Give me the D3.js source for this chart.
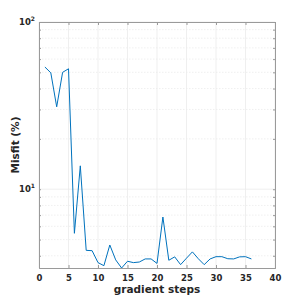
<!DOCTYPE html>
<html>
<head>
<meta charset="utf-8">
<script src="https://cdn.jsdelivr.net/npm/d3@7"></script>
<style>
  body { margin: 0; background: #fff; }
  text { font-family: "DejaVu Sans", sans-serif; font-weight: bold; }
</style>
</head>
<body>
<svg width="305" height="302"></svg>
<script>
// gradient step index and misfit values (%)
var steps = d3.range(1, 37);
var misfit = [53.8, 49.7, 31.1, 50.0, 52.5, 5.45, 13.8, 4.31, 4.29, 3.64,
  3.49, 4.64, 3.78, 3.38, 3.71, 3.64, 3.67, 3.83, 3.83, 3.60,
  6.82, 3.76, 3.94, 3.54, 3.87, 4.22, 3.84, 3.54, 3.83, 3.95,
  3.95, 3.84, 3.83, 3.94, 3.95, 3.83];
var xTicks = [0, 5, 10, 15, 20, 25, 30, 35, 40];
var yMajor = [10, 100];

var svg = d3.select("svg");
var margin = { top: 22, right: 30, bottom: 34, left: 39 },
  width = 305 - margin.left - margin.right,
  height = 302 - margin.top - margin.bottom;

var g = svg.append("g")
  .attr("transform", "translate(" + margin.left + "," + margin.top + ")");

var x = d3.scaleLinear().domain([0, 40]).range([0, width]);
var y = d3.scaleLog().domain([3.38, 100]).range([height, 0]);

// minor grid (dotted)
var minor = [];
[1, 10].forEach(function (d) {
  for (var k = 2; k <= 9; k++) {
    if (d * k > 3.38 && d * k < 100 && d * k !== 10) minor.push(d * k);
  }
});
g.selectAll(".minor").data(minor).enter().append("line")
  .attr("x1", 0).attr("x2", width)
  .attr("y1", function (d) { return y(d); })
  .attr("y2", function (d) { return y(d); })
  .attr("stroke", "#e6e6e6").attr("stroke-width", 0.6)
  .attr("stroke-dasharray", "1.5,1.5");

// major grid
g.selectAll(".vgrid").data(xTicks).enter().append("line")
  .attr("x1", function (d) { return x(d); }).attr("x2", function (d) { return x(d); })
  .attr("y1", 0).attr("y2", height)
  .attr("stroke", "#ebebeb").attr("stroke-width", 0.8);
g.selectAll(".hgrid").data(yMajor).enter().append("line")
  .attr("x1", 0).attr("x2", width)
  .attr("y1", function (d) { return y(d); }).attr("y2", function (d) { return y(d); })
  .attr("stroke", "#ebebeb").attr("stroke-width", 0.8);

// the misfit curve
var line = d3.line()
  .x(function (d, i) { return x(steps[i]); })
  .y(function (d) { return y(d); });
g.append("path").datum(misfit)
  .attr("d", line)
  .attr("fill", "none")
  .attr("stroke", "#0072bd")
  .attr("stroke-width", 1);

// axes
var axisColor = "#9a9a9a";
var axBottom = g.append("g").attr("transform", "translate(0," + height + ")")
  .call(d3.axisBottom(x).tickValues(xTicks).tickSize(-3).tickPadding(7));
var axTop = g.append("g")
  .call(d3.axisTop(x).tickValues(xTicks).tickSize(-3).tickFormat(""));
var axLeft = g.append("g")
  .call(d3.axisLeft(y).tickValues(yMajor.concat(minor)).tickSize(-2).tickFormat(""));
var axRight = g.append("g").attr("transform", "translate(" + width + ",0)")
  .call(d3.axisRight(y).tickValues(yMajor.concat(minor)).tickSize(-2).tickFormat(""));
[axBottom, axTop, axLeft, axRight].forEach(function (a) {
  a.select(".domain").attr("stroke", axisColor);
  a.selectAll(".tick line").attr("stroke", axisColor);
});
axBottom.selectAll("text")
  .attr("fill", "#262626").style("font-size", "8.5px").style("font-weight", "bold");

// y tick labels 10^1, 10^2
yMajor.forEach(function (d) {
  var t = g.append("text")
    .attr("x", -4).attr("y", y(d) + 3)
    .attr("text-anchor", "end")
    .attr("fill", "#262626")
    .style("font-size", "8.5px");
  t.append("tspan").text("10");
  t.append("tspan").attr("dy", -4).style("font-size", "6px").text(Math.round(Math.log10(d)));
});

// axis labels
svg.append("text")
  .attr("transform", "translate(19," + (margin.top + height / 2) + ") rotate(-90)")
  .attr("text-anchor", "middle")
  .attr("fill", "#262626")
  .style("font-size", "10.5px")
  .text("Misfit (%)");
svg.append("text")
  .attr("x", margin.left + width / 2).attr("y", 293)
  .attr("text-anchor", "middle")
  .attr("fill", "#262626")
  .style("font-size", "10.5px")
  .text("gradient steps");
</script>
</body>
</html>
